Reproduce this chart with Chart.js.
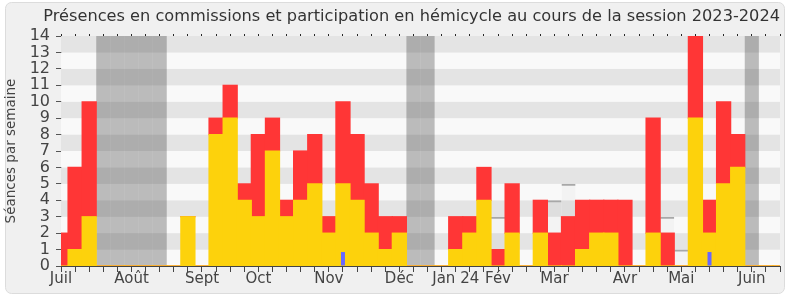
<!DOCTYPE html>
<html>
<head>
<meta charset="utf-8">
<script src="https://cdn.jsdelivr.net/npm/chart.js@4.4.0/dist/chart.umd.min.js"></script>
<style>
  html, body { margin: 0; background: #fff; }
  #wrap { width: 790px; height: 300px; }
</style>
</head>
<body>
<div id="wrap"><canvas id="presences" width="790" height="300"></canvas></div>
<script>
// semaines de la session (0 = première semaine de juillet 2023)
const semaines = [-1, 0, 1, 2, 3, 4, 5, 6, 7, 8, 9, 10, 11, 12, 13, 14, 15, 16, 17, 18, 19, 20, 21, 22, 23, 24,
  25, 26, 27, 28, 29, 30, 31, 32, 33, 34, 35, 36, 37, 38, 39, 40, 41, 42, 43, 44, 45, 46, 47, 48, 49, 50];
// présences en commission (jaune)
const commission = [0, 1, 3, 0, 0, 0, 0, 0, 0, 3, 0, 8, 9, 4, 3, 7, 3, 4, 5, 2, 5, 4, 2, 1, 2,
  0, 0, 0, 1, 2, 4, 0, 2, 0, 2, 0, 0, 1, 2, 2, 0, 0, 2, 0, 0, 9, 2, 5, 6, 0, 0, 0];
// participation en hémicycle (rouge)
const hemicycle = [2, 5, 7, 0, 0, 0, 0, 0, 0, 0, 0, 1, 2, 1, 5, 2, 1, 3, 3, 1, 5, 4, 3, 2, 1,
  0, 0, 0, 2, 1, 2, 1, 3, 0, 2, 2, 3, 3, 2, 2, 4, 0, 7, 2, 0, 5, 2, 5, 2, 0, 0, 0];
// questions orales (bleu)
const questions = [null, null, null, null, null, null, null, null, null, null, null, null, null, null, null, null,
  null, null, null, null, 0.85, null, null, null, null, null, null, null, null, null, null, null, null, null,
  null, null, null, null, null, null, null, null, null, null, null, null, 0.85, null, null, null, null, null];
// médiane des députés
const mediane = [null, null, null, null, null, null, null, null, null, null, null, null, null, null, null, null,
  null, null, null, null, null, null, null, null, null, null, null, null, null, null, null, 3, null, null,
  null, 4, 5, null, null, 3, null, null, null, 3, 1, null, null, null, null, null, null, null];
// semaines de vacances parlementaires
const vacances = [2, 3, 4, 5, 6, 24, 25, 48];

const moisSemaines = [-1, 4, 9, 13, 18, 23, 27, 30, 34, 39, 43, 48];
const moisLabels = ['Juil', 'Août', 'Sept', 'Oct', 'Nov', 'Déc', 'Jan 24', 'Fév', 'Mar', 'Avr', 'Mai', 'Juin'];

const yMax = 14;

function points(values) {
  return semaines.map((s, i) => ({ x: s, y: values[i] })).filter(p => p.y !== null);
}

Chart.defaults.font.family = 'DejaVu Sans';
Chart.defaults.color = '#333';

// cadre arrondi + bandes horizontales du fond
const fond = {
  id: 'fond',
  beforeDraw(chart) {
    const ctx = chart.ctx;
    ctx.save();
    ctx.fillStyle = '#f0f0f0';
    ctx.strokeStyle = '#dcdcdc';
    ctx.beginPath();
    ctx.roundRect(5.5, 2.5, 779, 291, 6);
    ctx.fill();
    ctx.stroke();
    ctx.restore();
  },
  beforeDatasetsDraw(chart) {
    const { ctx, chartArea: a, scales: { y } } = chart;
    ctx.save();
    for (let k = 0; k < yMax; k++) {
      const top = y.getPixelForValue(k + 1);
      const bottom = y.getPixelForValue(k);
      ctx.fillStyle = (k % 2 === 1) ? '#e4e4e4' : '#f9f9f9';
      ctx.fillRect(a.left, top, a.right - a.left, bottom - top);
    }
    ctx.restore();
  }
};

const weekTicks = scale => { scale.ticks = semaines.map(v => ({ value: v })); };

new Chart(document.getElementById('presences'), {
  type: 'bar',
  data: {
    datasets: [
      {
        label: 'Présences en commission',
        data: points(commission),
        backgroundColor: '#fdd20c',
        stack: 'a',
        order: 2
      },
      {
        label: 'Participation en hémicycle',
        data: points(hemicycle),
        backgroundColor: '#ff3636',
        stack: 'a',
        order: 3
      },
      {
        label: 'Questions orales',
        data: points(questions),
        backgroundColor: '#6767ff',
        barThickness: 4,
        inflateAmount: 0,
        stack: 'q',
        order: 1
      },
      {
        label: 'Médiane',
        data: points(mediane),
        backgroundColor: 'rgba(0,0,0,0.025)',
        borderColor: '#a8a8a8',
        borderWidth: { top: 2, left: 0, right: 0, bottom: 0 },
        inflateAmount: 0,
        stack: 'm',
        order: 5
      },
      {
        label: 'Vacances',
        data: vacances.map(s => ({ x: s, y: yMax })),
        backgroundColor: 'rgba(60,60,60,0.33)',
        inflateAmount: 0,
        stack: 'v',
        order: 4
      }
    ]
  },
  options: {
    responsive: false,
    animation: false,
    grouped: false,
    barPercentage: 1,
    categoryPercentage: 1,
    inflateAmount: 0.6,
    layout: { padding: { left: 3, right: 10, top: 0, bottom: 6 } },
    plugins: {
      legend: { display: false },
      tooltip: { enabled: false },
      title: {
        display: true,
        text: 'Présences en commissions et participation en hémicycle au cours de la session 2023-2024',
        color: '#333',
        align: 'end',
        font: { size: 16.2, weight: 'normal' },
        padding: { top: 7, bottom: 9.6 }
      }
    },
    scales: {
      x: {
        type: 'linear',
        stacked: true,
        offset: false,
        min: -1,
        max: 50,
        afterBuildTicks: weekTicks,
        afterFit: s => { s.height = 28; },
        grid: { drawOnChartArea: false, tickLength: 6, color: '#444', offset: false },
        border: { color: '#444' },
        ticks: {
          autoSkip: false,
          maxRotation: 0,
          minRotation: 0,
          padding: -2,
          font: { size: 15 },
          color: '#444',
          callback: v => {
            const i = moisSemaines.indexOf(v);
            return i >= 0 ? moisLabels[i] : '';
          }
        }
      },
      x2: {
        type: 'linear',
        position: 'top',
        offset: false,
        min: -1,
        max: 50,
        afterBuildTicks: weekTicks,
        afterFit: s => { s.height = 0; },
        grid: { drawOnChartArea: false, tickLength: 2, color: '#222', offset: false },
        border: { display: false },
        ticks: { display: false }
      },
      y: {
        stacked: true,
        min: 0,
        max: yMax,
        afterFit: s => { s.width = 58; },
        grid: { drawOnChartArea: false, tickLength: 5, color: '#555' },
        border: { color: '#444' },
        ticks: { stepSize: 1, autoSkip: false, padding: 6, font: { size: 16 }, color: '#444' },
        title: {
          display: true,
          text: 'Séances par semaine',
          color: '#444',
          font: { size: 13.5 },
          padding: 0
        }
      }
    }
  },
  plugins: [fond]
});
</script>
</body>
</html>
